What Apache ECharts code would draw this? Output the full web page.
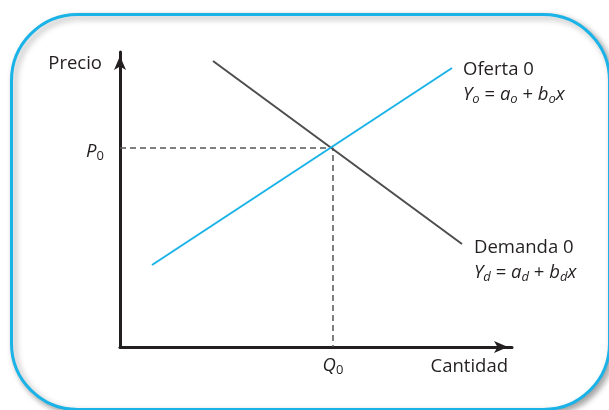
<!DOCTYPE html>
<html><head><meta charset="utf-8">
<script src="https://cdn.jsdelivr.net/npm/echarts@6/dist/echarts.min.js"></script>
<style>html,body{margin:0;padding:0;background:#fff}#c{width:609px;height:410px}</style>
</head><body><div id="c"></div>
<script>
// Data (axis units)
var xMax = 392, yMax = 295;
var supplyX = [32, 332], supplyY = [82, 279];
var demandX = [93, 342], demandY = [286, 103];
var eqQ = 213, eqP = 199;
var xName = 'Cantidad', yName = 'Precio';
var supplyName = 'Oferta 0', demandName = 'Demanda 0';

var FONT = 'Open Sans';
var FS = 18.5;
var chart = echarts.init(document.getElementById('c'));
function pts(xs, ys){ return xs.map(function(x,i){return [x, ys[i]];}); }
var rich = {
  t:{fontFamily:FONT,fontSize:FS,color:'#231f20',lineHeight:27},
  i:{fontFamily:FONT,fontSize:FS,fontStyle:'italic',color:'#231f20',lineHeight:22},
  n:{fontFamily:FONT,fontSize:FS,color:'#231f20',lineHeight:22},
  s:{fontFamily:FONT,fontSize:13,fontStyle:'italic',color:'#231f20',lineHeight:12,verticalAlign:'bottom'},
  s0:{fontFamily:FONT,fontSize:13,color:'#231f20',lineHeight:12,verticalAlign:'bottom'}
};
function eq(sub){
  return '{i|Y}{s|'+sub+'}{n| = }{i|a}{s|'+sub+'}{n| + }{i|b}{s|'+sub+'}{i|x}';
}
chart.setOption({
  animation:false,
  graphic:[{type:'rect',left:10,top:13,z:-10,
    shape:{width:598,height:395,r:66},
    style:{fill:'#fff',stroke:'#1ab3e8',lineWidth:3,shadowBlur:6,shadowOffsetX:3,shadowOffsetY:3,shadowColor:'rgba(0,0,0,0.35)'}}],
  grid:{left:120,right:97,top:52,bottom:63},
  xAxis:{type:'value',min:0,max:xMax,splitLine:{show:false},axisTick:{show:false},
    axisLine:{lineStyle:{color:'#231f20',width:3},symbol:['none','arrow'],symbolSize:[9,14],symbolOffset:[0,-4]},
    name:xName,nameLocation:'end',nameGap:0,
    nameTextStyle:{fontFamily:FONT,fontSize:FS,color:'#231f20',align:'right',verticalAlign:'top',padding:[10,4,0,0]},
    axisLabel:{customValues:[eqQ],formatter:function(){return '{i|Q}{s0|0}';},rich:rich,margin:8}},
  yAxis:{type:'value',min:0,max:yMax,splitLine:{show:false},axisTick:{show:false},
    axisLine:{lineStyle:{color:'#231f20',width:3},symbol:['none','arrow'],symbolSize:[9,14],symbolOffset:[0,-4]},
    name:yName,nameLocation:'end',nameGap:-12,
    nameTextStyle:{fontFamily:FONT,fontSize:FS,color:'#231f20',align:'right',verticalAlign:'middle',padding:[0,18,0,0]},
    axisLabel:{customValues:[eqP],formatter:function(){return '{i|P}{s0|0}';},rich:rich,margin:16,padding:[8,0,0,0]}},
  series:[
    {type:'line',data:[[0,eqP],[eqQ,eqP],[eqQ,0]],showSymbol:false,silent:true,
      lineStyle:{color:'#555',width:1.5,type:[6,4]}},
    {type:'line',name:demandName,data:pts(demandX,demandY),showSymbol:false,
      lineStyle:{color:'#4d4d4d',width:2},
      endLabel:{show:true,distance:12,offset:[0,15],formatter:'{t|'+demandName+'}\n'+eq('d'),rich:rich}},
    {type:'line',name:supplyName,data:pts(supplyX,supplyY),showSymbol:false,
      lineStyle:{color:'#1ab3e8',width:2},
      endLabel:{show:true,distance:11,offset:[0,13],formatter:'{t|'+supplyName+'}\n'+eq('o'),rich:rich}}
  ]
});
</script></body></html>
